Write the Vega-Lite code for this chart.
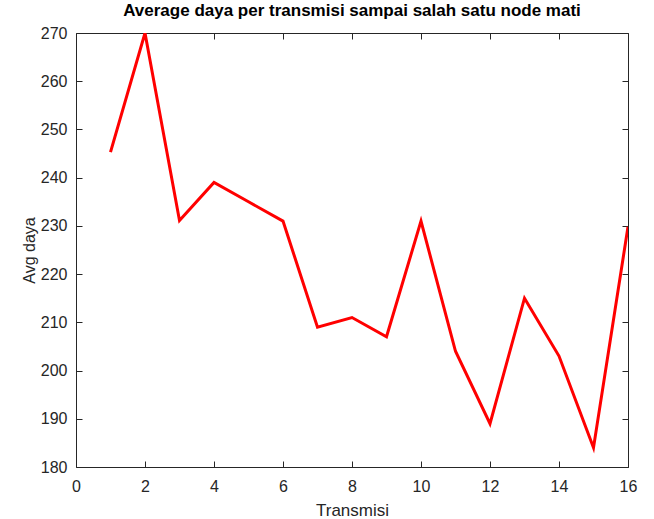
{
  "$schema": "https://vega.github.io/schema/vega-lite/v6.json",
  "autosize": "none",
  "padding": {"left": 76, "top": 33, "right": 26, "bottom": 52},
  "width": 552,
  "height": 434,
  "background": "white",
  "title": {
    "text": "Average daya per transmisi sampai salah satu node mati",
    "font": "Liberation Sans",
    "fontSize": 17,
    "fontWeight": "bold",
    "color": "#000000",
    "offset": 5,
    "anchor": "middle"
  },
  "config": {
    "view": {"stroke": "#262626", "strokeWidth": 1},
    "axis": {
      "labelFont": "Liberation Sans",
      "titleFont": "Liberation Sans",
      "labelFontSize": 16,
      "titleFontSize": 17,
      "titleFontWeight": "normal",
      "labelColor": "#262626",
      "titleColor": "#262626",
      "labelFlush": false,
      "labelOverlap": false,
      "domain": false,
      "grid": false,
      "ticks": true,
      "tickSize": -6,
      "tickColor": "#262626",
      "tickWidth": 1
    }
  },
  "data": {
    "values": [
      {"t": 1, "v": 245.3},
      {"t": 2, "v": 270},
      {"t": 3, "v": 231.1},
      {"t": 4, "v": 239},
      {"t": 5, "v": 235},
      {"t": 6, "v": 231},
      {"t": 7, "v": 209},
      {"t": 8, "v": 211},
      {"t": 9, "v": 207},
      {"t": 10, "v": 231},
      {"t": 11, "v": 204},
      {"t": 12, "v": 189},
      {"t": 13, "v": 215},
      {"t": 14, "v": 203},
      {"t": 15, "v": 184},
      {"t": 16, "v": 229.8}
    ]
  },
  "layer": [
    {
      "mark": {"type": "line", "color": "#FF0000", "strokeWidth": 3, "clip": true},
      "encoding": {
        "x": {
          "field": "t", "type": "quantitative",
          "scale": {"domain": [0, 16], "nice": false, "zero": false},
          "axis": {"title": "Transmisi", "values": [0, 2, 4, 6, 8, 10, 12, 14, 16], "labelPadding": 17, "titlePadding": 8, "orient": "bottom"}
        },
        "y": {
          "field": "v", "type": "quantitative",
          "scale": {"domain": [180, 270], "nice": false, "zero": false},
          "axis": {"title": "Avg daya", "titleFontSize": 16, "values": [180, 190, 200, 210, 220, 230, 240, 250, 260, 270], "labelPadding": 15, "titlePadding": 3, "orient": "left"}
        }
      }
    },
    {
      "mark": {"type": "line", "opacity": 0},
      "encoding": {
        "x": {
          "field": "t", "type": "quantitative",
          "scale": {"domain": [0, 16], "nice": false, "zero": false},
          "axis": {"title": null, "labels": false, "orient": "top", "values": [0, 2, 4, 6, 8, 10, 12, 14, 16]}
        },
        "y": {
          "field": "v", "type": "quantitative",
          "scale": {"domain": [180, 270], "nice": false, "zero": false},
          "axis": {"title": null, "labels": false, "orient": "right", "values": [180, 190, 200, 210, 220, 230, 240, 250, 260, 270]}
        }
      }
    }
  ],
  "resolve": {"axis": {"x": "independent", "y": "independent"}}
}
